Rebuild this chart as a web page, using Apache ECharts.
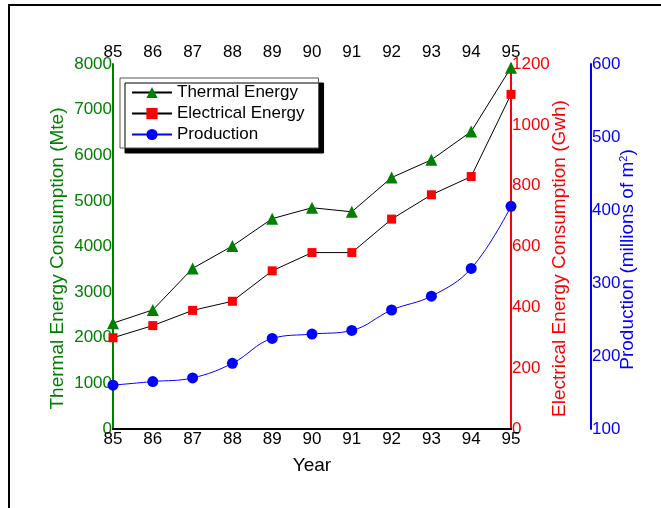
<!DOCTYPE html>
<html>
<head>
<meta charset="utf-8">
<script src="https://cdn.jsdelivr.net/npm/echarts@6/dist/echarts.min.js"></script>
<style>
  html, body { margin: 0; padding: 0; background: #fff; }
  #chart { width: 661px; height: 508px; }
</style>
</head>
<body>
<div id="chart"></div>
<script>
// 年份 (85 ~ 95)
const years = ["85", "86", "87", "88", "89", "90", "91", "92", "93", "94", "95"];
// Thermal Energy Consumption (Mte)
const thermal = [2320, 2610, 3520, 4010, 4610, 4850, 4760, 5510, 5900, 6520, 7920];
// Electrical Energy Consumption (Gwh)
const electrical = [300, 340, 390, 420, 520, 580, 580, 690, 770, 830, 1100];
// Production (millions of m2)
const production = [160, 165, 170, 190, 224, 230, 235, 263, 282, 320, 405];

const font = "Liberation Sans, Arial, sans-serif";
const plain = (v) => String(v); // 不要千分位

const xAxisBase = {
  type: "category",
  data: years,
  boundaryGap: false,
  axisLine: { lineStyle: { color: "#000", width: 2 } },
  axisTick: { show: false },
  axisLabel: { color: "#000", fontSize: 17, fontFamily: font },
  splitLine: { show: false },
};

// 轴标题整体往下偏一点，padding 用来挪位置
const yAxisStyle = (color, namePadding) => ({
  nameLocation: "middle",
  nameMoveOverlap: false,
  nameTextStyle: { color, fontSize: 19, fontFamily: font, padding: namePadding },
  axisLine: { show: true, lineStyle: { color, width: 2 } },
  axisTick: { show: false },
  axisLabel: { color, fontSize: 17, fontFamily: font, margin: 1, formatter: plain },
  splitLine: { show: false },
});

const chart = echarts.init(document.getElementById("chart"));

chart.setOption({
  animation: false,
  grid: { left: 113, right: 150, top: 64, bottom: 79 },
  graphic: [
    {
      // 外框
      type: "rect",
      shape: { x: 9, y: 5, width: 700, height: 600 },
      style: { fill: "none", stroke: "#000", lineWidth: 2 },
      z: -10,
    },
  ],
  legend: {
    left: 120,
    top: 78,
    orient: "vertical",
    itemWidth: 40,
    itemHeight: 14,
    itemGap: 4,
    padding: [6, 14, 5, 11],
    backgroundColor: "#fff",
    borderColor: "#555",
    borderWidth: 1,
    shadowColor: "#000",
    shadowBlur: 0,
    shadowOffsetX: 5,
    shadowOffsetY: 5,
    textStyle: { color: "#000", fontSize: 17, fontFamily: font },
    data: ["Thermal Energy", "Electrical Energy", "Production"],
  },
  xAxis: [
    Object.assign({}, xAxisBase, {
      position: "bottom",
      axisLabel: Object.assign({}, xAxisBase.axisLabel, { margin: 2 }),
      name: "Year",
      nameLocation: "middle",
      nameGap: 27,
      nameTextStyle: { color: "#000", fontSize: 19, fontFamily: font },
    }),
    Object.assign({}, xAxisBase, {
      position: "top",
      axisLabel: Object.assign({}, xAxisBase.axisLabel, { margin: 3 }),
    }),
  ],
  yAxis: [
    Object.assign(yAxisStyle("#008000", [0, 24, 0, 0]), {
      type: "value",
      position: "left",
      min: 0,
      max: 8000,
      interval: 1000,
      name: "Thermal Energy Consumption (Mte)",
      nameGap: 46,
    }),
    Object.assign(yAxisStyle("#ff0000", [0, 24, 0, 0]), {
      type: "value",
      position: "right",
      min: 0,
      max: 1200,
      interval: 200,
      name: "Electrical Energy Consumption (Gwh)",
      nameGap: 39,
    }),
    Object.assign(yAxisStyle("#0000ff", [0, 26, 0, 0]), {
      type: "value",
      position: "right",
      offset: 80,
      min: 100,
      max: 600,
      interval: 100,
      name: "Production (millions of m{sup|2})",
      nameGap: 27,
    }),
  ],
  series: [
    {
      name: "Thermal Energy",
      type: "line",
      xAxisIndex: 0,
      yAxisIndex: 0,
      data: thermal,
      symbol: "triangle",
      symbolSize: 12,
      clip: false,
      lineStyle: { color: "#000", width: 1 },
      itemStyle: { color: "#008000" },
    },
    {
      name: "Electrical Energy",
      type: "line",
      xAxisIndex: 0,
      yAxisIndex: 1,
      data: electrical,
      symbol: "rect",
      symbolSize: 9,
      clip: false,
      lineStyle: { color: "#000", width: 1 },
      itemStyle: { color: "#ff0000" },
    },
    {
      name: "Production",
      type: "line",
      xAxisIndex: 0,
      yAxisIndex: 2,
      data: production,
      symbol: "circle",
      symbolSize: 11,
      smooth: 0.4,
      clip: false,
      lineStyle: { color: "#0000ff", width: 1 },
      itemStyle: { color: "#0000ff" },
    },
  ],
});

// 上标 2 需要 rich，单独补上
chart.setOption({
  yAxis: [
    {},
    {},
    {
      nameTextStyle: {
        rich: { sup: { fontSize: 11, color: "#0000ff", fontFamily: font, verticalAlign: "top", padding: [0, 0, 9, 0] } },
      },
    },
  ],
});

window.addEventListener("resize", () => {
  chart.resize();
});
</script>
</body>
</html>
